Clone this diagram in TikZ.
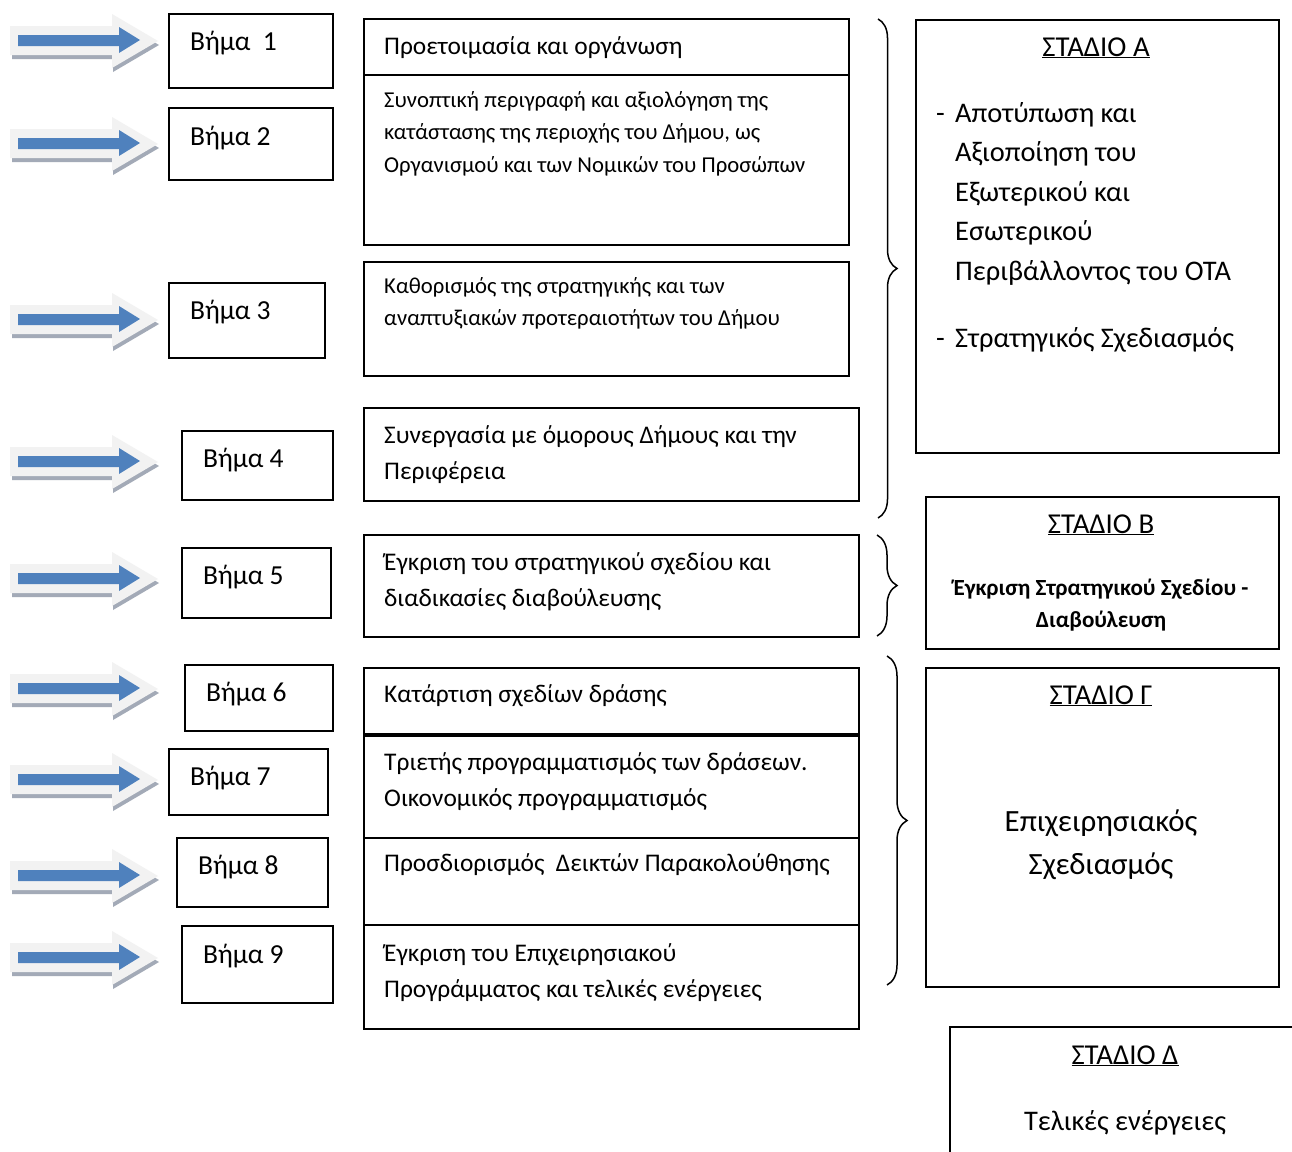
\documentclass[tikz,border=0pt]{standalone}
\usepackage{fontspec}
\setmainfont{Carlito}
\usetikzlibrary{decorations.pathreplacing}
\definecolor{arrowblue}{HTML}{4F81BD}
\definecolor{arrowface}{HTML}{F2F2F2}
\definecolor{arrowshade}{HTML}{A3AAB7}
\begin{document}
\begin{tikzpicture}[x=1pt,y=-1pt,
  box/.style={draw=black, line width=1.8pt, inner sep=0pt, anchor=north west},
  steptxt/.style={font=\fontsize{27.5}{33}\selectfont, anchor=base west, inner sep=0pt},
  bodytxt/.style={font=\fontsize{25.4}{31}\selectfont, anchor=base west, inner sep=0pt},
  smalltxt/.style={font=\fontsize{22.7}{27}\selectfont, anchor=base west, inner sep=0pt},
  stagetxt/.style={font=\fontsize{28.4}{34}\selectfont, anchor=base west, inner sep=0pt},
  headtxt/.style={font=\fontsize{28.8}{34}\selectfont, anchor=base, inner sep=0pt},
  endtxt/.style={font=\fontsize{28.4}{34}\selectfont, anchor=base, inner sep=0pt},
  boldtxt/.style={font=\fontsize{23.1}{28}\selectfont\bfseries, anchor=base, inner sep=0pt},
  bigtxt/.style={font=\fontsize{30.9}{37}\selectfont, anchor=base, inner sep=0pt},
  bracestyle/.style={draw=black, line width=1.5pt, decorate},
  fatarrow/.pic={
    \fill[arrowshade] (12,19) -- (113,19) -- (113,32) -- (159,5) -- (113,-22) -- (113,-10) -- (12,-10) -- cycle;
    \fill[arrowface] (10,15) -- (112,15) -- (112,28) -- (158,1) -- (112,-26) -- (112,-14) -- (10,-14) -- cycle;
    \fill[arrowblue] (18,6) -- (119,6) -- (119,13) -- (140,0) -- (119,-13) -- (119,-5) -- (18,-5) -- cycle;
  }
]
\useasboundingbox (0,0) rectangle (1292,1151);
\clip (0,0) rectangle (1292,1151);
\fill[white] (0,0) rectangle (1292,1151);

% arrows
\foreach \c in {40,143,319,461,578,688,779,875,957} {
  \pic at (0,\c) {fatarrow};
}

% step boxes
\node[box, minimum width=164pt, minimum height=74pt] (s1) at (168,13) {};
\node[box, minimum width=164pt, minimum height=72pt] (s2) at (168,107) {};
\node[box, minimum width=156pt, minimum height=75pt] (s3) at (168,282) {};
\node[box, minimum width=151pt, minimum height=69pt] (s4) at (181,430) {};
\node[box, minimum width=149pt, minimum height=70pt] (s5) at (181,547) {};
\node[box, minimum width=148pt, minimum height=66pt] (s6) at (184,664) {};
\node[box, minimum width=159pt, minimum height=66pt] (s7) at (168,748) {};
\node[box, minimum width=151pt, minimum height=69pt] (s8) at (176,837) {};
\node[box, minimum width=151pt, minimum height=77pt] (s9) at (181,925) {};

\node[steptxt] (t1) at (190,50) {Βήμα\ \ 1};
\node[steptxt] (t2) at (190,145) {Βήμα 2};
\node[steptxt] (t3) at (190,319) {Βήμα 3};
\node[steptxt] (t4) at (203,467) {Βήμα 4};
\node[steptxt] (t5) at (203,584) {Βήμα 5};
\node[steptxt] (t6) at (206,701) {Βήμα 6};
\node[steptxt] (t7) at (190,785) {Βήμα 7};
\node[steptxt] (t8) at (198,874) {Βήμα 8};
\node[steptxt] (t9) at (203,963) {Βήμα 9};

% content boxes
\node[box, minimum width=485pt, minimum height=56pt] (b1) at (363,18) {};
\node[box, minimum width=485pt, minimum height=170pt] (b2) at (363,74) {};
\node[box, minimum width=485pt, minimum height=114pt] (b3) at (363,261) {};
\node[box, minimum width=495pt, minimum height=93pt] (b4) at (363,407) {};
\node[box, minimum width=495pt, minimum height=102pt] (b5) at (363,534) {};
\node[box, minimum width=495pt, minimum height=66pt] (b6) at (363,667) {};
\node[box, minimum width=495pt, minimum height=102pt] (b7) at (363,735) {};
\node[box, minimum width=495pt, minimum height=87pt] (b8) at (363,837) {};
\node[box, minimum width=495pt, minimum height=104pt] (b9) at (363,924) {};

\node[bodytxt] (c1) at (384,54) {Προετοιμασία και οργάνωση};
\node[smalltxt] (c2a) at (384,107) {Συνοπτική περιγραφή και αξιολόγηση της};
\node[smalltxt] (c2b) at (384,139.5) {κατάστασης της περιοχής του Δήμου, ως};
\node[smalltxt] (c2c) at (384,172) {Οργανισμού και των Νομικών του Προσώπων};
\node[smalltxt] (c3a) at (384,293) {Καθορισμός της στρατηγικής και των};
\node[smalltxt] (c3b) at (384,325) {αναπτυξιακών προτεραιοτήτων του Δήμου};
\node[bodytxt] (c4a) at (384,443) {Συνεργασία με όμορους Δήμους και την};
\node[bodytxt] (c4b) at (384,479) {Περιφέρεια};
\node[bodytxt] (c5a) at (384,570) {Έγκριση του στρατηγικού σχεδίου και};
\node[bodytxt] (c5b) at (384,606) {διαδικασίες διαβούλευσης};
\node[bodytxt] (c6) at (384,702) {Κατάρτιση σχεδίων δράσης};
\node[bodytxt] (c7a) at (384,770) {Τριετής προγραμματισμός των δράσεων.};
\node[bodytxt] (c7b) at (384,806) {Οικονομικός προγραμματισμός};
\node[bodytxt] (c8) at (384,871) {Προσδιορισμός\ \ Δεικτών Παρακολούθησης};
\node[bodytxt] (c9a) at (384,961) {Έγκριση του Επιχειρησιακού};
\node[bodytxt] (c9b) at (384,997) {Προγράμματος και τελικές ενέργειες};

% braces
\draw[bracestyle, decoration={brace, amplitude=19pt}] (878,19) -- (878,518);
\draw[bracestyle, decoration={brace, amplitude=20pt}] (877,535) -- (877,636);
\draw[bracestyle, decoration={brace, amplitude=20pt}] (887,656) -- (887,985);

% stage boxes
\node[box, minimum width=363pt, minimum height=433pt] (sa) at (915,19) {};
\node[box, minimum width=353pt, minimum height=152pt] (sb) at (925,496) {};
\node[box, minimum width=353pt, minimum height=319pt] (sc) at (925,667) {};
\node[box, minimum width=370pt, minimum height=160pt] (sd) at (949,1026) {};

\node[headtxt] (ha) at (1096,56) {\underline{ΣΤΑΔΙΟ Α}};
\node[stagetxt] (da1) at (936,122) {-};
\node[stagetxt] (a1) at (955,122) {Αποτύπωση και};
\node[stagetxt] (a2) at (955,161.5) {Αξιοποίηση του};
\node[stagetxt] (a3) at (955,201) {Εξωτερικού και};
\node[stagetxt] (a4) at (955,240.5) {Εσωτερικού};
\node[stagetxt] (a5) at (955,280) {Περιβάλλοντος του ΟΤΑ};
\node[stagetxt] (da2) at (936,347) {-};
\node[stagetxt] (a6) at (955,347) {Στρατηγικός Σχεδιασμός};

\node[headtxt] (hb) at (1101,533) {\underline{ΣΤΑΔΙΟ Β}};
\node[boldtxt] (b1t) at (1101,595) {Έγκριση Στρατηγικού Σχεδίου -};
\node[boldtxt] (b2t) at (1101,627) {Διαβούλευση};

\node[headtxt] (hc) at (1101,704) {\underline{ΣΤΑΔΙΟ Γ}};
\node[bigtxt] (g1) at (1101,831) {Επιχειρησιακός};
\node[bigtxt] (g2) at (1101,874) {Σχεδιασμός};

\node[headtxt] (hd) at (1125,1064) {\underline{ΣΤΑΔΙΟ Δ}};
\node[endtxt] (d1) at (1125,1130) {Τελικές ενέργειες};
\end{tikzpicture}
\end{document}
